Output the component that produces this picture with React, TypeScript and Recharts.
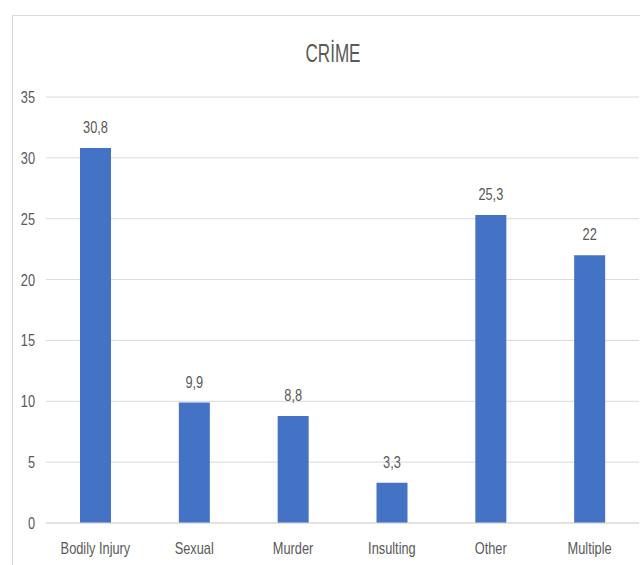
import { BarChart, Bar, XAxis, YAxis, CartesianGrid, LabelList } from 'recharts'

const categories = ['Bodily Injury', 'Sexual', 'Murder', 'Insulting', 'Other', 'Multiple']
const values = [30.8, 9.9, 8.8, 3.3, 25.3, 22]
const yTicks = [0, 5, 10, 15, 20, 25, 30, 35]

const data = categories.map((name, i) => ({ name, value: values[i] }))

const FONT = '"Liberation Sans", Arial, sans-serif'
const TEXT = '#595959'
const GRID = '#d9d9d9'
const SQUEEZE = 0.8 // calibri-ish narrow look

// excel-style decimal comma
const fmt = (v: any) => String(v).replace('.', ',')

function NarrowText({ x, y, anchor, children }: any) {
  return (
    <g transform={`translate(${x},${y}) scale(${SQUEEZE},1)`}>
      <text x={0} y={0} textAnchor={anchor} fontFamily={FONT} fontSize={16} fill={TEXT}>
        {children}
      </text>
    </g>
  )
}

function XTick({ x, y, payload }: any) {
  return (
    <NarrowText x={x} y={y + 23} anchor="middle">
      {payload.value}
    </NarrowText>
  )
}

function YTick({ x, y, payload }: any) {
  return (
    <NarrowText x={x - 3} y={y + 6} anchor="end">
      {payload.value}
    </NarrowText>
  )
}

function BarLabel({ x, y, width, value }: any) {
  return (
    <NarrowText x={x + width / 2} y={y - 15} anchor="middle">
      {fmt(value)}
    </NarrowText>
  )
}

export default function App() {
  return (
    <div style={{ position: 'absolute', left: 0, top: 0, width: 640, height: 565, overflow: 'hidden', background: '#fff' }}>
      <div
        style={{
          position: 'absolute',
          left: 12,
          top: 15,
          width: 700,
          height: 700,
          border: `1px solid ${GRID}`,
        }}
      />
      <svg width={640} height={80} style={{ position: 'absolute', left: 0, top: 0 }}>
        <text
          x={333}
          y={62}
          textAnchor="middle"
          fontFamily={FONT}
          fontSize={26}
          fill={TEXT}
          textLength={55}
          lengthAdjust="spacingAndGlyphs"
        >
          CRİME
        </text>
      </svg>
      <div style={{ position: 'absolute', left: 0, top: 0 }}>
        <BarChart
          width={640}
          height={565}
          data={data}
          margin={{ top: 97, right: 1, bottom: 12, left: 0 }}
          barSize={31}
        >
          <CartesianGrid vertical={false} stroke={GRID} />
          <XAxis
            dataKey="name"
            height={30}
            tickLine={false}
            axisLine={{ stroke: GRID }}
            tick={<XTick />}
            interval={0}
          />
          <YAxis
            width={46}
            domain={[0, 35]}
            ticks={yTicks}
            tickLine={false}
            axisLine={false}
            tick={<YTick />}
          />
          <Bar dataKey="value" fill="#4472C4" isAnimationActive={false}>
            <LabelList dataKey="value" content={<BarLabel />} />
          </Bar>
        </BarChart>
      </div>
    </div>
  )
}
